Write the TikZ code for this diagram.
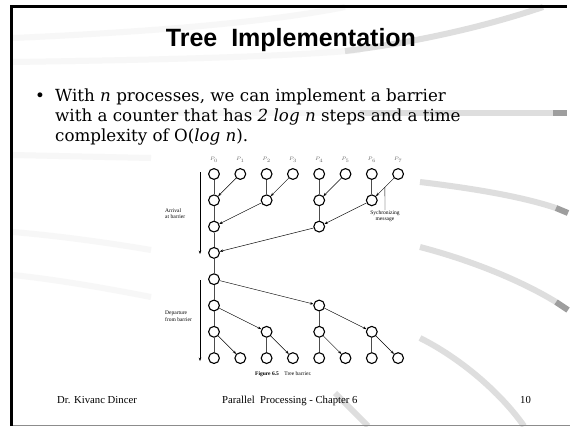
\documentclass[tikz,border=0pt]{standalone}
\usepackage{fontspec}
\setmainfont{Liberation Serif}
\newfontfamily\titlefont{Liberation Sans}
\newfontfamily\bodyfont{DejaVu Serif}
\usetikzlibrary{arrows.meta,calc}
\begin{document}
\begin{tikzpicture}[x=1pt,y=-1pt,
  proc/.style={circle,draw,line width=1.1pt,minimum size=10.8pt,inner sep=0pt},
  vline/.style={line width=0.8pt,black!70},
  msg/.style={line width=0.45pt,-{Stealth[length=3.4pt,width=2.6pt]}},
  swoosh/.style={line width=6pt,line cap=butt},
  faint/.style={swoosh,black!3},
  band/.style={swoosh,black!13},
  bandend/.style={swoosh,black!38},
  tiny/.style={font=\fontsize{5.5}{6.2}\selectfont,inner sep=0pt},
  body/.style={font=\bodyfont\fontsize{16.7}{20}\selectfont,inner sep=0pt,anchor=base west},
  foot/.style={font=\fontsize{10.7}{13}\selectfont,inner sep=0pt,anchor=base west}]
\useasboundingbox (0,0) rectangle (570,426);
\fill[white] (0,0) rectangle (570,426);

% decorative swooshes
\draw[faint] (13,38) .. controls (150,32) and (270,22) .. (345,7);
\draw[faint] (13,62) .. controls (150,60) and (280,57) .. (360,50);
\draw[band] (345,51) .. controls (420,42) and (490,25) .. (543,7);
\draw[faint] (150,113) -- (360,113);
\draw[band] (360,113) -- (553,113);
\draw[bandend] (553,113) -- (567,113);
\draw[faint] (13,155) -- (151,158);
\draw[faint] (13,232) .. controls (60,236) and (110,243) .. (151,250);
\draw[faint] (13,275) .. controls (60,280) and (110,289) .. (151,297);
\draw[band] (420,182) .. controls (470,188) and (520,196) .. (556,208);
\draw[bandend] (556,208) -- (568,213);
\draw[band] (420,247) .. controls (470,260) and (520,280) .. (556,302);
\draw[bandend] (556,302) -- (568,310);
\draw[band] (420,338) .. controls (460,358) and (500,392) .. (524,426);
\draw[band] (335,393) -- (368,426);

% title and text
\node[font=\titlefont\bfseries\fontsize{25}{30}\selectfont,anchor=base,inner sep=0pt] (title) at (291,46) {Tree\ \ Implementation};
\node[body,anchor=base] (bul) at (40,101) {•};
\node[body] (l1) at (55,101) {With \textit{n} processes, we can implement a barrier};
\node[body] (l2) at (55,121) {with a counter that has \textit{2 log n} steps and a time};
\node[body] (l3) at (55,141) {complexity of O(\textit{log n}).};

% tree
\foreach \c in {0,...,7}{
  \node[tiny,text=black!60] (p\c) at ({214+26.3*\c},160) {$P_{\c}$};
  \node[proc] (n\c-0) at ({214+26.3*\c},174) {};
  \node[proc] (n\c-7) at ({214+26.3*\c},{174+26.3*7}) {};
}
\foreach \c/\r in {0/1,2/1,4/1,6/1,0/2,4/2,0/3,0/4,0/5,4/5,0/6,2/6,4/6,6/6}{
  \node[proc] (n\c-\r) at ({214+26.3*\c},{174+26.3*\r}) {};
}
\foreach \a/\b in {0-0/0-1,0-1/0-2,0-2/0-3,0-3/0-4,0-4/0-5,0-5/0-6,0-6/0-7,
  2-0/2-1,4-0/4-1,6-0/6-1,4-1/4-2,4-5/4-6,2-6/2-7,4-6/4-7,6-6/6-7}{
  \draw[vline] (n\a) -- (n\b);
}
\foreach \a/\b in {1-0/0-1,3-0/2-1,5-0/4-1,7-0/6-1,2-1/0-2,6-1/4-2,4-2/0-3,
  0-4/4-5,0-5/2-6,4-5/6-6,0-6/1-7,2-6/3-7,4-6/5-7,6-6/7-7}{
  \draw[msg] (n\a) -- (n\b);
}

% phase arrows and labels
\coordinate (a1) at (200,172);
\coordinate (a2) at (200,254);
\coordinate (d1) at (200,280);
\coordinate (d2) at (200,361);
\draw[msg] (a1) -- (a2);
\draw[msg] (d1) -- (d2);
\node[tiny,align=left,anchor=north west] (arr) at (165,208) {Arrival\\at barrier};
\node[tiny,align=left,anchor=north west] (dep) at (165,311) {Departure\\from barrier};
\node[tiny,align=center,anchor=north] (sync) at (385,210) {Sychronizing\\message};
\draw[line width=0.45pt] ($(n7-0)!0.5!(n6-1)$) -- (sync.north);
\node[font=\fontsize{5.5}{6}\selectfont,anchor=base west,inner sep=0pt] (cap) at (255,375) {\textbf{Figure 6.5}\quad Tree barrier.};

% footer
\node[foot] (f1) at (57,403) {Dr. Kivanc Dincer};
\node[foot] (f2) at (222,403) {Parallel\ \ Processing - Chapter 6};
\node[foot] (f3) at (520,403) {10};

% frame
\draw[line width=1.2pt,black!45] (11,425.3) -- (570,425.3);
\draw[line width=2.5pt,black] (11.5,426) -- (11.5,6.5) -- (567,6.5);
\end{tikzpicture}
\end{document}
